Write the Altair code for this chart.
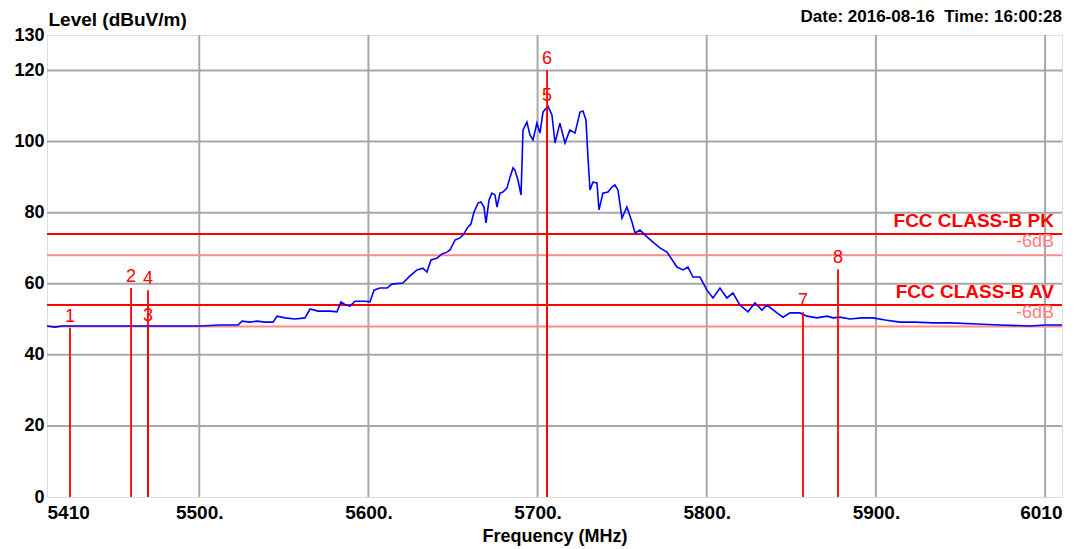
import altair as alt
import pandas as pd

# ---- spectrum trace (frequency MHz, level dBuV/m) ----
freq = [5410.0, 5414.7, 5418.9, 5429.5, 5441.3, 5459.1, 5476.8, 5488.6, 5500.4, 5512.3,
        5522.9, 5525.3, 5530.0, 5534.1, 5538.9, 5543.6, 5546.0, 5550.7, 5556.6, 5562.5,
        5565.5, 5570.2, 5577.3, 5581.4, 5583.8, 5586.7, 5589.1, 5592.1, 5598.0, 5600.9,
        5603.3, 5606.8, 5611.0, 5613.9, 5620.4, 5624.6, 5628.7, 5632.2, 5634.6, 5637.0,
        5640.5, 5643.5, 5646.4, 5648.2, 5651.2, 5654.1, 5655.9, 5658.9, 5660.6, 5662.4,
        5664.8, 5666.5, 5668.3, 5669.5, 5671.3, 5673.0, 5674.8, 5676.0, 5677.8, 5679.5,
        5681.9, 5683.7, 5685.5, 5686.6, 5688.4, 5690.2, 5691.4, 5693.7, 5695.5, 5697.3,
        5699.6, 5701.4, 5703.2, 5706.1, 5708.5, 5710.3, 5713.2, 5716.2, 5719.1, 5722.1,
        5725.1, 5726.8, 5728.6, 5729.8, 5731.0, 5732.7, 5735.1, 5736.3, 5738.6, 5741.6,
        5744.0, 5745.7, 5747.5, 5749.9, 5752.8, 5755.8, 5757.6, 5760.5, 5764.7, 5768.2,
        5772.3, 5776.5, 5782.4, 5785.9, 5788.9, 5791.8, 5796.0, 5800.1, 5803.7, 5807.8,
        5811.9, 5815.5, 5819.6, 5824.4, 5828.5, 5832.6, 5835.6, 5841.5, 5845.1, 5849.2,
        5855.1, 5859.2, 5865.1, 5871.1, 5874.6, 5878.7, 5884.7, 5891.7, 5898.3, 5905.4,
        5914.2, 5923.1, 5933.7, 5943.8, 5959.7, 5973.3, 5991.1, 5999.9, 6010.0]
level = [48.1, 47.8, 48.1, 48.1, 48.1, 48.1, 48.1, 48.1, 48.1, 48.4,
         48.4, 49.5, 49.2, 49.5, 49.2, 49.2, 50.9, 50.4, 50.1, 50.4,
         52.9, 52.3, 52.3, 52.1, 54.9, 54.0, 53.7, 55.1, 55.1, 54.9,
         58.2, 58.8, 58.8, 59.9, 60.2, 62.2, 63.9, 64.4, 63.3, 66.7,
         67.2, 68.4, 68.9, 69.5, 72.3, 72.9, 73.7, 76.0, 76.8, 80.2,
         82.7, 83.0, 81.6, 77.1, 83.6, 85.5, 85.0, 81.6, 85.5, 85.8,
         86.9, 90.0, 92.6, 92.0, 89.2, 85.0, 103.3, 105.5, 101.9, 100.5,
         105.2, 102.4, 108.3, 110.0, 107.5, 99.6, 105.2, 99.6, 103.3, 102.4,
         108.3, 108.6, 106.1, 95.4, 86.4, 88.6, 88.4, 80.8, 85.5, 85.8,
         87.2, 87.8, 86.4, 78.5, 81.6, 77.4, 74.3, 75.1, 73.2, 71.7,
         70.1, 68.9, 64.7, 63.9, 64.7, 61.9, 61.9, 58.2, 56.0, 58.8,
         56.0, 57.4, 54.0, 52.1, 54.6, 52.6, 54.0, 51.8, 50.6, 51.8,
         51.8, 50.9, 50.4, 50.9, 50.4, 50.6, 50.1, 50.4, 50.4, 49.8,
         49.2, 49.2, 49.0, 49.0, 48.7, 48.4, 48.1, 48.4, 48.4]

# ---- markers ----
marker_labels = ["1", "2", "3", "4", "5", "6", "7", "8"]
marker_freq = [5423.6, 5459.7, 5469.7, 5469.7, 5705.6, 5705.6, 5856.9, 5877.6]
marker_level = [47.6, 58.8, 47.8, 58.2, 109.8, 120.1, 52.0, 64.1]

# ---- limit lines ----
limit_names = ["FCC CLASS-B PK", "-6dB", "FCC CLASS-B AV", "-6dB"]
limit_levels = [74, 68, 54, 48]
limit_kind = ["limit", "margin", "limit", "margin"]

x_ticks = [5410, 5500, 5600, 5700, 5800, 5900, 6010]
x_grid = [5500, 5600, 5700, 5800, 5900, 6000]
y_ticks = [0, 20, 40, 60, 80, 100, 120, 130]
y_grid = [20, 40, 60, 80, 100, 120]
x_end = 6010
y_top = 130
header_text = ["Date: 2016-08-16\u00a0\u00a0Time: 16:00:28"]

trace = pd.DataFrame({"f": freq, "lvl": level})
markers = pd.DataFrame({"label": marker_labels, "f": marker_freq, "lvl": marker_level})
limits = pd.DataFrame({"name": limit_names, "lvl": limit_levels, "kind": limit_kind,
                       "f": [x_end] * len(limit_names)})
header = pd.DataFrame({"txt": header_text, "f": [x_end], "lvl": [y_top]})
xg = pd.DataFrame({"f": x_grid})
yg = pd.DataFrame({"lvl": y_grid})

SANS = "Liberation Sans, Arial, sans-serif"

xs = alt.Scale(domain=[5410, 6010], nice=False, zero=False)
ys = alt.Scale(domain=[0, 130], nice=False, zero=True)

x_axis = alt.Axis(values=x_ticks, grid=False, ticks=False, domain=False,
                  labelExpr="(datum.value == 5410 || datum.value == 6010) ? datum.value : datum.value + '.'",
                  labelFlush=True, labelFont=SANS, labelFontSize=19, labelFontWeight="bold",
                  labelColor="#000", labelPadding=6,
                  title="Frequency (MHz)", titleFont=SANS, titleFontSize=18,
                  titleFontWeight="bold", titleColor="#000", titlePadding=5)
y_axis = alt.Axis(values=y_ticks, grid=False, ticks=False, domain=False,
                  labelFont=SANS, labelFontSize=18, labelFontWeight="bold",
                  labelColor="#000", labelPadding=3, labelFlush=False,
                  title="Level (dBuV/m)", titleAngle=0, titleAlign="left",
                  titleBaseline="middle", titleX=1, titleY=-16,
                  titleFont=SANS, titleFontSize=19, titleFontWeight="bold", titleColor="#000")

X = alt.X("f:Q", scale=xs, axis=x_axis)
Y = alt.Y("lvl:Q", scale=ys, axis=y_axis)

grid_v = alt.Chart(xg).mark_rule(color="#a8a8a8", strokeWidth=2).encode(x=X)
grid_h = alt.Chart(yg).mark_rule(color="#a8a8a8", strokeWidth=2).encode(y=Y)

limit_rules = alt.Chart(limits).mark_rule(strokeWidth=2).encode(
    y=Y,
    color=alt.Color("kind:N", scale=alt.Scale(domain=["limit", "margin"],
                                               range=["#ff0000", "#ff8a8a"]), legend=None))

pk_lbl = alt.Chart(limits).transform_filter("datum.kind == 'limit'").mark_text(
    align="right", baseline="bottom", dx=-8, dy=-3, font=SANS, fontSize=19,
    fontWeight="bold", color="#ff0000").encode(x=X, y=Y, text="name:N")
mg_lbl = alt.Chart(limits).transform_filter("datum.kind == 'margin'").mark_text(
    align="right", baseline="bottom", dx=-8, dy=-4, font=SANS, fontSize=18,
    color="#ff8080").encode(x=X, y=Y, text="name:N")

head = alt.Chart(header).mark_text(
    align="right", baseline="middle", dy=-18, font=SANS, fontSize=17,
    fontWeight="bold", color="#000").encode(x=X, y=Y, text="txt:N")

line = alt.Chart(trace).mark_line(color="#0000ff", strokeWidth=1.6).encode(x=X, y=Y)

m_rules = alt.Chart(markers).transform_calculate(zero="0").mark_rule(
    color="#ff0000", strokeWidth=1.8).encode(
    x=X, y=alt.Y("zero:Q", scale=ys, axis=y_axis), y2=alt.Y2("lvl:Q"))
m_text = alt.Chart(markers).mark_text(baseline="bottom", dy=-2, font=SANS, fontSize=18,
                                      color="#ff0000").encode(x=X, y=Y, text="label:N")

chart = alt.layer(grid_v, grid_h, limit_rules, pk_lbl, mg_lbl, line, m_rules, m_text, head).properties(
    width=1015, height=462,
    autosize=alt.AutoSizeParams(type="none"),
    padding={"left": 39, "top": 27, "right": 18, "bottom": 50},
).configure_view(stroke="#000", strokeWidth=2).configure(background="white")

chart.save("out.html", embed_options={"renderer": "svg", "actions": False})
